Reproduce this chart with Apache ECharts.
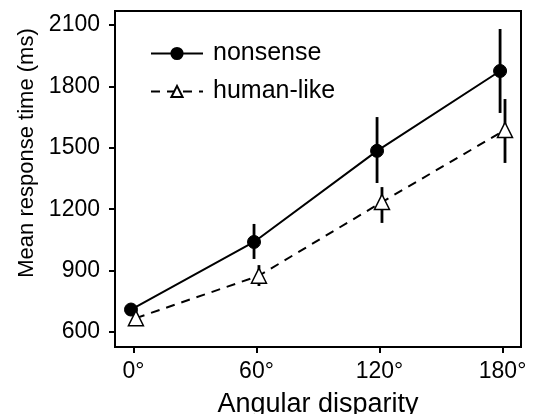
<!DOCTYPE html>
<html>
<head>
<meta charset="utf-8">
<script src="https://cdn.jsdelivr.net/npm/echarts@6/dist/echarts.min.js"></script>
<style>
  html, body { margin: 0; padding: 0; background: #fff; }
  #chart { width: 533px; height: 414px; }
</style>
</head>
<body>
<div id="chart"></div>
<script>
// angular disparity (deg) and the small dodge used for each group
const angles = [0, 60, 120, 180];
const dodge = 1.2;

// nonsense figures
const nonsenseMean = [710, 1040, 1485, 1875];
const nonsenseLow  = [700, 957, 1328, 1670];
const nonsenseHigh = [720, 1128, 1650, 2080];

// human-like figures
const humanMean = [668, 875, 1235, 1587];
const humanLow  = [660, 825, 1133, 1426];
const humanHigh = [676, 927, 1308, 1738];

const xTicks = [0, 60, 120, 180];
const yTicks = [600, 900, 1200, 1500, 1800, 2100];

const font = 'Liberation Sans, Arial, sans-serif';

const chart = echarts.init(document.getElementById('chart'));

const pts = (means, off) => angles.map((a, i) => [a + off, means[i]]);
const bars = (low, high, off) => angles.map((a, i) => [a + off, low[i], high[i]]);

// 误差线
const errorSeries = (data) => ({
  type: 'custom',
  silent: true,
  z: 1,
  data: data,
  renderItem: (params, api) => {
    const lo = api.coord([api.value(0), api.value(1)]);
    const hi = api.coord([api.value(0), api.value(2)]);
    return {
      type: 'line',
      shape: { x1: lo[0], y1: lo[1], x2: hi[0], y2: hi[1] },
      style: { stroke: '#000', lineWidth: 2.8 }
    };
  }
});

chart.setOption({
  animation: false,
  grid: {
    left: 115, right: 12, top: 11, bottom: 67,
    outerBoundsMode: 'none',
    show: true, borderColor: '#000', borderWidth: 2, backgroundColor: '#fff'
  },
  legend: {
    orient: 'vertical',
    left: 145, top: 36,
    itemWidth: 52, itemHeight: 14, itemGap: 13,
    textStyle: { fontFamily: font, fontSize: 25, color: '#000', padding: [0, 0, 0, 5] },
    data: ['nonsense', 'human-like']
  },
  xAxis: {
    type: 'value',
    min: -9, max: 189,
    splitLine: { show: false },
    axisLine: { show: true, onZero: false, lineStyle: { color: '#000', width: 2 } },
    axisTick: { show: true, customValues: xTicks, length: 6, lineStyle: { color: '#000', width: 2 } },
    axisLabel: {
      customValues: xTicks, formatter: v => v + '°',
      fontFamily: font, fontSize: 23, color: '#000', margin: 13
    },
    name: 'Angular disparity',
    nameLocation: 'middle', nameGap: 44,
    nameTextStyle: { fontFamily: font, fontSize: 27, color: '#000' }
  },
  yAxis: {
    type: 'value',
    min: 527, max: 2168,
    splitLine: { show: false },
    axisLine: { show: true, onZero: false, lineStyle: { color: '#000', width: 2 } },
    axisTick: { show: true, customValues: yTicks, length: 6, lineStyle: { color: '#000', width: 2 } },
    axisLabel: {
      customValues: yTicks, formatter: v => String(v),
      fontFamily: font, fontSize: 23, color: '#000', margin: 15
    },
    name: 'Mean response time (ms)',
    nameLocation: 'middle', nameGap: 76,
    nameTextStyle: { fontFamily: font, fontSize: 22, color: '#000', padding: [0, 0, 0, 52] }
  },
  series: [
    errorSeries(bars(nonsenseLow, nonsenseHigh, -dodge)),
    errorSeries(bars(humanLow, humanHigh, dodge)),
    {
      name: 'nonsense',
      type: 'line',
      z: 3,
      data: pts(nonsenseMean, -dodge),
      symbol: 'circle', symbolSize: 13,
      itemStyle: { color: '#000', borderColor: '#000', borderWidth: 1 },
      lineStyle: { color: '#000', width: 2 }
    },
    {
      name: 'human-like',
      type: 'line',
      z: 3,
      data: pts(humanMean, dodge),
      symbol: 'triangle', symbolSize: 15,
      itemStyle: { color: '#fff', borderColor: '#000', borderWidth: 1.5 },
      lineStyle: { color: '#000', width: 2, type: [9, 7] }
    }
  ]
});
</script>
</body>
</html>
